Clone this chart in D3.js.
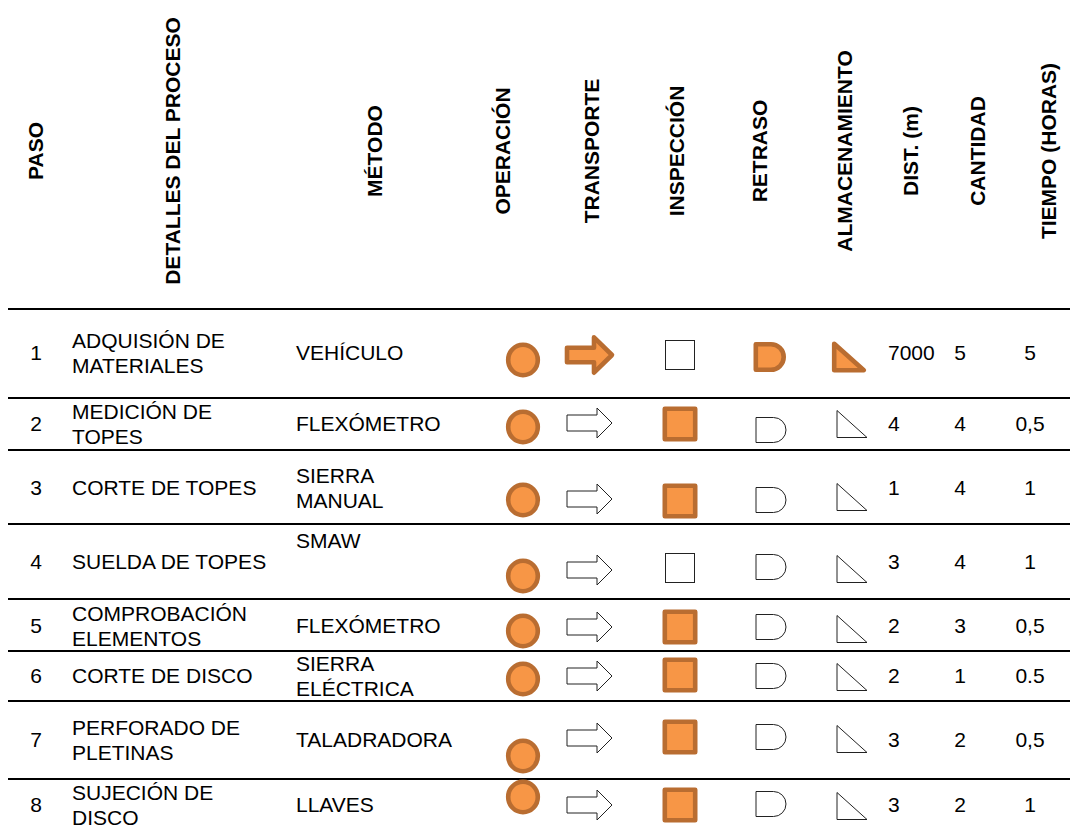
<!DOCTYPE html>
<html>
<head>
<meta charset="utf-8">
<script src="https://cdn.jsdelivr.net/npm/d3@7"></script>
<style>
  html, body { margin: 0; padding: 0; background: #fff; }
  svg { display: block; }
  text { font-family: "Liberation Sans", Arial, sans-serif; fill: #000; }
</style>
</head>
<body>
<svg id="chart" width="1070" height="825"></svg>
<script>
// ---------------- DATA ----------------
const headers = ["PASO", "DETALLES DEL PROCESO", "MÉTODO", "OPERACIÓN", "TRANSPORTE",
  "INSPECCIÓN", "RETRASO", "ALMACENAMIENTO", "DIST. (m)", "CANTIDAD", "TIEMPO (HORAS)"];
const steps = ["1", "2", "3", "4", "5", "6", "7", "8"];
const details = [
  ["ADQUISIÓN DE", "MATERIALES"],
  ["MEDICIÓN  DE", "TOPES"],
  ["CORTE DE TOPES"],
  ["SUELDA DE TOPES"],
  ["COMPROBACIÓN", "ELEMENTOS"],
  ["CORTE DE DISCO"],
  ["PERFORADO DE", "PLETINAS"],
  ["SUJECIÓN  DE", "DISCO"]
];
const methods = [
  ["VEHÍCULO"], ["FLEXÓMETRO"], ["SIERRA", "MANUAL"], ["SMAW"],
  ["FLEXÓMETRO"], ["SIERRA", "ELÉCTRICA"], ["TALADRADORA"], ["LLAVES"]
];
const symbolKinds = ["operation", "transport", "inspection", "delay", "storage"];
// 1 = marked (filled orange), 0 = empty outline symbol
const operation  = [1, 1, 1, 1, 1, 1, 1, 1];
const transport  = [1, 0, 0, 0, 0, 0, 0, 0];
const inspection = [0, 1, 1, 0, 1, 1, 1, 1];
const delay      = [1, 0, 0, 0, 0, 0, 0, 0];
const storage    = [1, 0, 0, 0, 0, 0, 0, 0];
const distance = ["7000", "4", "1", "3", "2", "2", "3", "3"];
const quantity = ["5", "4", "4", "4", "3", "1", "2", "2"];
const timeHours = ["5", "0,5", "1", "1", "0,5", "0.5", "0,5", "1"];

// ---------------- LAYOUT ----------------
const W = 1070, H = 825;
const FILL = "#F79646", EDGE = "#B96D31";
const fontSize = 21, lineGap = 24.5;
const headerLineY = 309;
const rowLinesY = [398, 450, 524, 599, 651, 701, 779];
const rowTextY = [353, 424, 488, 562, 626, 676, 740, 805];
const methodTextY = [353, 424, 488, 541, 626, 676, 740, 805];
// symbol vertical centres per row: [operation, transport, inspection, delay, storage]
const symbolY = [
  [360, 355, 355, 357, 357],
  [427, 423, 424, 430, 424],
  [500, 499, 501, 500, 497],
  [576, 570, 568, 567, 569],
  [631, 627, 627, 627, 629],
  [679, 676, 675, 676, 677],
  [756, 738, 737, 737, 739],
  [797, 805, 805, 804, 806]
];

const svg = d3.select("#chart");

const headerX = d3.scaleOrdinal().domain(headers)
  .range([36, 173, 375, 503, 592, 677, 760, 845, 911, 978, 1049]);
const symbolX = d3.scaleOrdinal().domain(symbolKinds).range([523, 589.5, 680, 771, 851]);
const rowIdx = d3.range(steps.length);

// ---------- header ----------
svg.append("g").selectAll("text").data(headers).join("text")
  .attr("transform", d => `translate(${headerX(d)},151) rotate(-90)`)
  .attr("text-anchor", "middle")
  .attr("dy", "0.35em")
  .attr("font-weight", "bold")
  .attr("font-size", fontSize)
  .text(d => d);

// ---------- rules ----------
svg.append("g").selectAll("line").data([headerLineY, ...rowLinesY]).join("line")
  .attr("x1", 8).attr("x2", W)
  .attr("y1", d => d).attr("y2", d => d)
  .attr("stroke", "#000").attr("stroke-width", 2.2);

// ---------- text cells ----------
function multiLine(g, lines, x, cy, anchor) {
  const n = lines.length;
  lines.forEach((t, i) => {
    g.append("text")
      .attr("x", x)
      .attr("y", cy + (i - (n - 1) / 2) * lineGap)
      .attr("dy", "0.35em")
      .attr("text-anchor", anchor)
      .attr("font-size", fontSize)
      .text(t);
  });
}
const cells = svg.append("g");
rowIdx.forEach(i => {
  multiLine(cells, [steps[i]], 36, rowTextY[i], "middle");
  multiLine(cells, details[i], 72, rowTextY[i], "start");
  multiLine(cells, methods[i], 296, methodTextY[i], "start");
  multiLine(cells, [distance[i]], 888, rowTextY[i], "start");
  multiLine(cells, [quantity[i]], 960, rowTextY[i], "middle");
  multiLine(cells, [timeHours[i]], 1030, rowTextY[i], "middle");
});

// ---------- symbols ----------
const marks = { operation, transport, inspection, delay, storage };
function style(sel, on) {
  sel.attr("fill", on ? FILL : "#fff")
     .attr("stroke", on ? EDGE : "#222")
     .attr("stroke-width", on ? 4.6 : 1)
     .attr("stroke-linejoin", on ? "round" : "miter");
}
const sym = svg.append("g");
rowIdx.forEach(i => {
  symbolKinds.forEach((k, j) => {
    const on = marks[k][i] === 1;
    const cx = symbolX(k), cy = symbolY[i][j];
    let el;
    if (k === "operation") {
      el = sym.append("ellipse").attr("cx", cx).attr("cy", cy).attr("rx", 14.8).attr("ry", 15.2);
    } else if (k === "transport") {
      const w = on ? 22.5 : 22.5, sh = on ? 7.2 : 8, hh = on ? 17.7 : 15, hl = on ? 18 : 15;
      const p = d3.path();
      p.moveTo(cx - w, cy - sh); p.lineTo(cx + w - hl, cy - sh); p.lineTo(cx + w - hl, cy - hh);
      p.lineTo(cx + w, cy); p.lineTo(cx + w - hl, cy + hh); p.lineTo(cx + w - hl, cy + sh);
      p.lineTo(cx - w, cy + sh); p.closePath();
      el = sym.append("path").attr("d", p.toString());
    } else if (k === "inspection") {
      const s = on ? 15.2 : 14.5;
      el = sym.append("rect").attr("x", cx - s).attr("y", cy - s).attr("width", 2 * s).attr("height", 2 * s);
    } else if (k === "delay") {
      const h = on ? 12.8 : 12.5;
      const right = cx + 15;               // outer right extent
      const ac = right - h - (on ? 2.3 : 0); // arc centre x
      const x0 = on ? cx - 17.5 + 2.3 : cx - 15;
      const p = d3.path();
      p.moveTo(x0, cy - h); p.lineTo(ac, cy - h);
      p.arc(ac, cy, h, -Math.PI / 2, Math.PI / 2);
      p.lineTo(x0, cy + h); p.closePath();
      el = sym.append("path").attr("d", p.toString());
    } else {
      const sx = on ? 14.8 : 15, sy = on ? 13.3 : 13.5, ox = on ? -2 : 1;
      const p = d3.path();
      p.moveTo(cx + ox - sx, cy - sy); p.lineTo(cx + ox + sx, cy + sy); p.lineTo(cx + ox - sx, cy + sy); p.closePath();
      el = sym.append("path").attr("d", p.toString());
    }
    style(el, on);
  });
});
</script>
</body>
</html>
